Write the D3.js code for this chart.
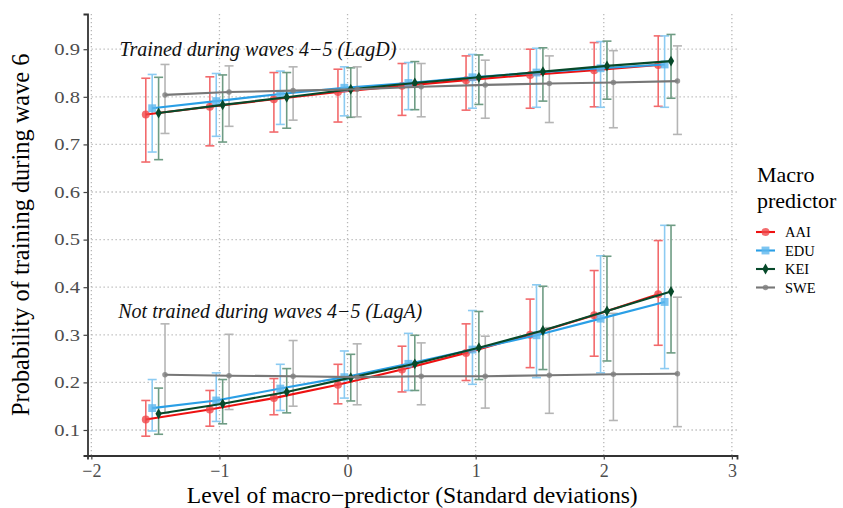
<!DOCTYPE html>
<html><head><meta charset="utf-8">
<script src="https://cdn.jsdelivr.net/npm/d3@7"></script>
<style>
html,body{margin:0;padding:0;background:#fff;}
svg{display:block;}
text{font-family:"Liberation Serif","Times New Roman",serif;}
</style></head>
<body>
<svg id="chart" width="843" height="508"></svg>
<script>
// ---------- DATA ----------
const xLevels = [-1.5, -1, -0.5, 0, 0.5, 1, 1.5, 2, 2.5];
const predictors = ["AAI", "EDU", "KEI", "SWE"];
const xTicks = [-2, -1, 0, 1, 2, 3];
const yTicks = [0.1, 0.2, 0.3, 0.4, 0.5, 0.6, 0.7, 0.8, 0.9];

// Trained during waves 4-5 (LagD)
const lagD_AAI_est = [0.763,0.779,0.795,0.810,0.823,0.835,0.846,0.856,0.867];
const lagD_AAI_lo  = [0.663,0.697,0.726,0.747,0.761,0.772,0.776,0.779,0.780];
const lagD_AAI_hi  = [0.839,0.842,0.851,0.858,0.870,0.886,0.900,0.914,0.928];
const lagD_EDU_est = [0.776,0.791,0.806,0.819,0.829,0.841,0.851,0.860,0.868];
const lagD_EDU_lo  = [0.684,0.717,0.742,0.760,0.773,0.776,0.778,0.778,0.778];
const lagD_EDU_hi  = [0.847,0.849,0.854,0.863,0.872,0.889,0.902,0.916,0.928];
const lagD_KEI_est = [0.766,0.783,0.799,0.816,0.829,0.841,0.853,0.865,0.875];
const lagD_KEI_lo  = [0.668,0.705,0.734,0.757,0.773,0.784,0.791,0.795,0.797];
const lagD_KEI_hi  = [0.841,0.846,0.851,0.861,0.874,0.888,0.903,0.917,0.931];
const lagD_SWE_est = [0.804,0.810,0.813,0.816,0.821,0.825,0.828,0.830,0.833];
const lagD_SWE_lo  = [0.723,0.738,0.751,0.758,0.758,0.755,0.746,0.735,0.721];
const lagD_SWE_hi  = [0.868,0.865,0.863,0.863,0.870,0.877,0.886,0.897,0.907];

// Not trained during waves 4-5 (LagA)
const lagA_AAI_est = [0.122,0.143,0.167,0.195,0.227,0.262,0.300,0.341,0.385];
const lagA_AAI_lo  = [0.087,0.108,0.132,0.155,0.180,0.204,0.231,0.255,0.278];
const lagA_AAI_hi  = [0.162,0.183,0.208,0.238,0.276,0.323,0.375,0.435,0.498];
const lagA_EDU_est = [0.146,0.162,0.187,0.211,0.239,0.269,0.299,0.334,0.369];
const lagA_EDU_lo  = [0.098,0.118,0.141,0.167,0.183,0.196,0.210,0.220,0.229];
const lagA_EDU_hi  = [0.206,0.220,0.238,0.266,0.303,0.351,0.405,0.466,0.530];
const lagA_KEI_est = [0.134,0.155,0.180,0.210,0.239,0.273,0.309,0.350,0.391];
const lagA_KEI_lo  = [0.091,0.113,0.136,0.161,0.183,0.206,0.227,0.245,0.262];
const lagA_KEI_hi  = [0.188,0.206,0.229,0.259,0.299,0.349,0.402,0.465,0.530];
const lagA_SWE_est = [0.216,0.214,0.213,0.211,0.213,0.213,0.215,0.217,0.218];
const lagA_SWE_lo  = [0.135,0.143,0.150,0.153,0.153,0.146,0.135,0.120,0.107];
const lagA_SWE_hi  = [0.323,0.301,0.288,0.281,0.283,0.297,0.315,0.345,0.379];

const panelLabels = ["Trained during waves 4\u22125 (LagD)", "Not trained during waves 4\u22125 (LagA)"];
const xTitle = "Level of macro\u2212predictor (Standard deviations)";
const yTitle = "Probability of training during wave 6";
const legendTitle = ["Macro", "predictor"];

// ---------- STYLE ----------
const colors = {AAI:"#EE1111", EDU:"#2A9FE6", KEI:"#07492A", SWE:"#777777"};
const errColors = {AAI:"#F26A6C", EDU:"#8CCBF2", KEI:"#6E9C84", SWE:"#B5B5B5"};
const pointColors = {AAI:"#F0474A", EDU:"#5DB6EE", KEI:"#07492A", SWE:"#808080"};
const dodge = {AAI:-0.075, EDU:-0.025, KEI:0.025, SWE:0.075};

const sets = {
  lagD: {AAI:[lagD_AAI_est,lagD_AAI_lo,lagD_AAI_hi], EDU:[lagD_EDU_est,lagD_EDU_lo,lagD_EDU_hi],
         KEI:[lagD_KEI_est,lagD_KEI_lo,lagD_KEI_hi], SWE:[lagD_SWE_est,lagD_SWE_lo,lagD_SWE_hi]},
  lagA: {AAI:[lagA_AAI_est,lagA_AAI_lo,lagA_AAI_hi], EDU:[lagA_EDU_est,lagA_EDU_lo,lagA_EDU_hi],
         KEI:[lagA_KEI_est,lagA_KEI_lo,lagA_KEI_hi], SWE:[lagA_SWE_est,lagA_SWE_lo,lagA_SWE_hi]}
};

const svg = d3.select("#chart");
svg.append("rect").attr("width",843).attr("height",508).attr("fill","#fff");

const pLeft = 87.5, pRight = 737, pTop = 14, pBottom = 455.5;
const x = d3.scaleLinear().domain([-2.03, 3.04]).range([pLeft, pRight]);
const y = d3.scaleLinear().domain([0.0464, 0.974]).range([pBottom, pTop]);

// gridlines
const grid = svg.append("g");
grid.selectAll(".gx").data(xTicks).join("line")
  .attr("x1", d=>x(d)).attr("x2", d=>x(d)).attr("y1", pTop).attr("y2", pBottom)
  .attr("stroke","#b8b8b8").attr("stroke-width",1.3).attr("stroke-dasharray","1.3,2.7");
grid.selectAll(".gy").data(yTicks).join("line")
  .attr("x1", pLeft).attr("x2", pRight).attr("y1", d=>y(d)).attr("y2", d=>y(d))
  .attr("stroke","#b8b8b8").attr("stroke-width",1.3).attr("stroke-dasharray","1.3,2.7");

// axes
const xAxis = d3.axisBottom(x).tickValues(xTicks).tickSize(4).tickPadding(5)
  .tickFormat(d => d < 0 ? "\u2212" + Math.abs(d) : String(d));
const gx = svg.append("g").attr("transform", `translate(0,${pBottom})`).call(xAxis);
gx.select(".domain").attr("stroke","#333").attr("stroke-width",1.8);
gx.selectAll(".tick line").attr("stroke","#444").attr("stroke-width",1.2);
gx.selectAll(".tick text").attr("font-size",18).attr("fill","#4d4d4d")
  .style("font-family","'Liberation Serif',serif");

const yAxis = d3.axisLeft(y).tickValues(yTicks).tickSize(4).tickPadding(5).tickFormat(d3.format(".1f"));
const gy = svg.append("g").attr("transform", `translate(${pLeft},0)`).call(yAxis);
gy.select(".domain").attr("stroke","#333").attr("stroke-width",1.8);
gy.selectAll(".tick line").attr("stroke","#444").attr("stroke-width",1.2);
gy.selectAll(".tick text").attr("font-size",16.5).attr("fill","#4d4d4d")
  .attr("x",-6).attr("transform","scale(1.25,1)")
  .style("font-family","'Liberation Serif',serif");

// titles
svg.append("text").attr("x", (pLeft+pRight)/2).attr("y", 503).attr("text-anchor","middle")
  .attr("font-size",23.6).attr("fill","#000").text(xTitle);
svg.append("text").attr("transform",`translate(29,${(pTop+pBottom)/2}) rotate(-90)`)
  .attr("text-anchor","middle").attr("font-size",24.4).attr("fill","#000").text(yTitle);

// panel labels
svg.append("text").attr("x", x(-1.78)).attr("y", y(0.9)).attr("dy","0.33em")
  .attr("font-size",20).attr("font-style","italic").attr("fill","#111").text(panelLabels[0]);
svg.append("text").attr("x", x(-1.79)).attr("y", y(0.35)).attr("dy","0.33em")
  .attr("font-size",20).attr("font-style","italic").attr("fill","#111").text(panelLabels[1]);

const plot = svg.append("g");
const capW = 4.5;

function symbolPath(p) {
  if (p === "AAI") return d3.symbol(d3.symbolCircle, 50)();
  if (p === "EDU") return d3.symbol(d3.symbolSquare, 62)();
  if (p === "KEI") return d3.symbol(d3.symbolDiamond, 34)();
  return d3.symbol(d3.symbolCircle, 24)();
}

["lagD","lagA"].forEach(key => {
  predictors.forEach(p => {
    const [est, lo, hi] = sets[key][p];
    const pts = xLevels.map((xv,i)=>({x:xv+dodge[p], est:est[i], lo:lo[i], hi:hi[i]}));
    const g = plot.append("g");
    const eb = g.selectAll(".eb").data(pts).join("g").attr("stroke", errColors[p]).attr("stroke-width",1.6);
    eb.append("line").attr("x1",d=>x(d.x)).attr("x2",d=>x(d.x)).attr("y1",d=>y(d.lo)).attr("y2",d=>y(d.hi));
    eb.append("line").attr("x1",d=>x(d.x)-capW).attr("x2",d=>x(d.x)+capW).attr("y1",d=>y(d.lo)).attr("y2",d=>y(d.lo));
    eb.append("line").attr("x1",d=>x(d.x)-capW).attr("x2",d=>x(d.x)+capW).attr("y1",d=>y(d.hi)).attr("y2",d=>y(d.hi));
  });
  predictors.forEach(p => {
    const [est] = sets[key][p];
    const pts = xLevels.map((xv,i)=>({x:xv+dodge[p], est:est[i]}));
    plot.append("path").datum(pts)
      .attr("d", d3.line().x(d=>x(d.x)).y(d=>y(d.est)))
      .attr("fill","none").attr("stroke",colors[p]).attr("stroke-width",2.1);
    plot.selectAll(null).data(pts).join("path")
      .attr("transform", d=>`translate(${x(d.x)},${y(d.est)})`)
      .attr("d", symbolPath(p)).attr("fill", pointColors[p]).attr("fill-opacity", p==="KEI"?1:0.8);
  });
});

// legend
const lg = svg.append("g");
lg.append("text").attr("x",757).attr("y",182).attr("font-size",22).text(legendTitle[0]);
lg.append("text").attr("x",757).attr("y",207.5).attr("font-size",22).text(legendTitle[1]);
predictors.forEach((p,i) => {
  const yy = 232 + i*18.5;
  lg.append("line").attr("x1",756).attr("x2",775).attr("y1",yy).attr("y2",yy)
    .attr("stroke",colors[p]).attr("stroke-width",2.1);
  lg.append("path").attr("transform",`translate(765.5,${yy})`).attr("d",symbolPath(p))
    .attr("fill",pointColors[p]).attr("fill-opacity", p==="KEI"?1:0.8);
  lg.append("text").attr("x",785).attr("y",yy).attr("dy","0.35em").attr("font-size",14.5).text(p);
});
</script>
</body></html>
